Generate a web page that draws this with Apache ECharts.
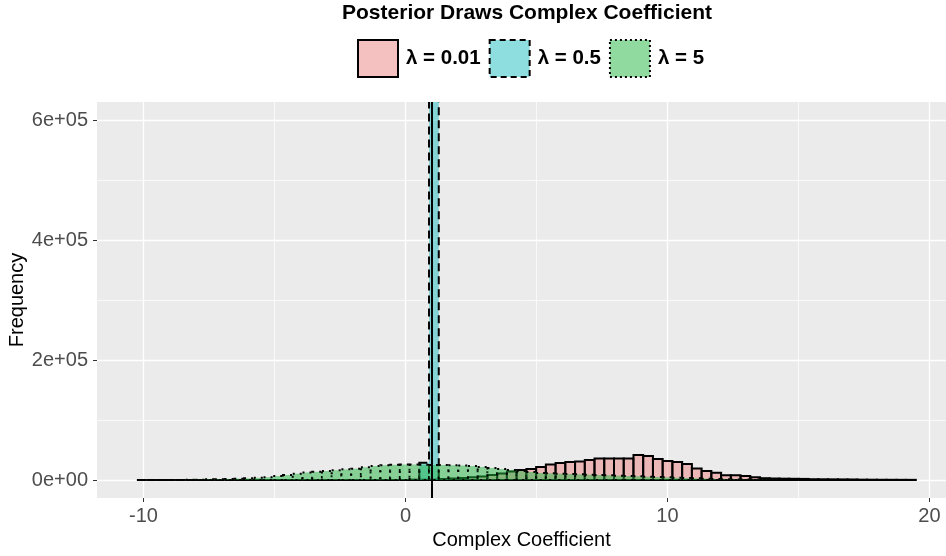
<!DOCTYPE html>
<html>
<head>
<meta charset="utf-8">
<script src="https://cdn.jsdelivr.net/npm/echarts@6/dist/echarts.min.js"></script>
<style>
  html, body { margin: 0; padding: 0; background: #ffffff; }
  #chart { width: 946px; height: 556px; }
</style>
</head>
<body>
<div id="chart"></div>
<script>
// ---- data ----
const SERIES_NAMES = ['λ = 0.01', 'λ = 0.5', 'λ = 5'];
const BIN_START = -10.25;
const BIN_WIDTH = 0.3716;
const TRUE_VALUE = 1;

// counts per bin (80 bins)
const countsLow = [
  0, 0, 0, 0, 0, 0, 0, 0, 0, 0,
  0, 0, 0, 0, 0, 0, 0, 0, 0, 0,
  0, 0, 0, 0, 0, 0, 0, 0, 300, 600,
  1000, 1700, 2500, 3500, 4500, 6000, 8300, 10800, 14200, 16700,
  18300, 21500, 25800, 28300, 30000, 30800, 33300, 35800, 35800, 35800,
  35800, 41700, 40000, 35000, 31700, 30000, 26700, 19200, 15000, 12200,
  7800, 7800, 6700, 4500, 3000, 2500, 2200, 2000, 1800, 1300,
  1200, 1100, 1000, 900, 600, 500, 400, 350, 300, 250
];
const countsMid = [
  0, 0, 0, 0, 0, 0, 0, 0, 0, 0,
  0, 0, 0, 0, 0, 0, 0, 0, 0, 0,
  0, 0, 0, 0, 0, 0, 0, 0, 500, 28800,
  670000, 1500, 200, 0, 0, 0, 0, 0, 0, 0,
  0, 0, 0, 0, 0, 0, 0, 0, 0, 0,
  0, 0, 0, 0, 0, 0, 0, 0, 0, 0,
  0, 0, 0, 0, 0, 0, 0, 0, 0, 0,
  0, 0, 0, 0, 0, 0, 0, 0, 0, 0
];
const countsHigh = [
  10, 20, 40, 80, 150, 300, 600, 1200, 1300, 1700,
  2200, 2800, 3700, 4700, 6700, 8300, 10500, 12500, 13700, 15000,
  16300, 17800, 18800, 21200, 23300, 24700, 25300, 25800, 25800, 25300,
  25000, 25000, 24700, 24200, 23300, 21700, 20000, 18300, 16700, 15000,
  13300, 11700, 11200, 10500, 10000, 9500, 8800, 8300, 7800, 7200,
  6700, 6200, 5500, 5000, 4500, 3800, 3300, 2800, 2200, 1700,
  1300, 1000, 800, 700, 500, 300, 150, 100, 50, 0,
  0, 0, 0, 0, 0, 0, 0, 0, 0, 0
];

const X_TICKS = [-10, 0, 10, 20];
const X_TICK_LABELS = ['-10', '0', '10', '20'];
const X_MINOR = [-5, 5, 15];
const Y_TICKS = [0, 200000, 400000, 600000];
const Y_TICK_LABELS = ['0e+00', '2e+05', '4e+05', '6e+05'];
const Y_MINOR = [100000, 300000, 500000];

// ---- styling ----
const FONT = '"Liberation Sans", Arial, sans-serif';
const FILLS = ['rgba(233,131,129,0.5)', 'rgba(29,189,193,0.5)', 'rgba(33,181,65,0.5)'];
const DASHES = [null, [8, 5], [2, 5]];
const BORDER_TYPES = ['solid', [6, 4], [2, 3]];
const X_MIN = -11.775, X_MAX = 20.63;
const Y_MIN = -30000, Y_MAX = 630000;

function binData(counts) {
  return counts.map((c, i) => [BIN_START + i * BIN_WIDTH, BIN_START + (i + 1) * BIN_WIDTH, c]);
}

function makeRender(fill, dash) {
  return function (params, api) {
    const p0 = api.coord([api.value(0), 0]);
    const p1 = api.coord([api.value(1), api.value(2)]);
    return {
      type: 'rect',
      shape: { x: p0[0], y: p1[1], width: p1[0] - p0[0], height: p0[1] - p1[1] },
      style: { fill: fill, stroke: '#000000', lineWidth: 2, lineDash: dash }
    };
  };
}

const allCounts = [countsLow, countsMid, countsHigh];
const series = allCounts.map((counts, k) => ({
  type: 'custom',
  name: SERIES_NAMES[k],
  xAxisIndex: 0,
  yAxisIndex: 0,
  clip: true,
  silent: true,
  itemStyle: { color: FILLS[k] },
  renderItem: makeRender(FILLS[k], DASHES[k]),
  encode: { x: [0, 1], y: 2 },
  data: binData(counts)
}));
series[2].markLine = {
  silent: true,
  symbol: ['none', 'none'],
  label: { show: false },
  lineStyle: { color: '#000000', width: 2, type: 'solid' },
  data: [{ xAxis: TRUE_VALUE }]
};

const chart = echarts.init(document.getElementById('chart'), null, { renderer: 'canvas' });
chart.setOption({
  animation: false,
  backgroundColor: '#ffffff',
  title: {
    text: 'Posterior Draws Complex Coefficient',
    left: 522,
    textAlign: 'center',
    top: -2,
    textStyle: { fontFamily: FONT, fontSize: 21, fontWeight: 'bold', color: '#000000' }
  },
  legend: {
    top: 39,
    left: 357,
    padding: 0,
    itemWidth: 40,
    itemHeight: 37,
    itemGap: 8,
    selectedMode: false,
    textStyle: { fontFamily: FONT, fontSize: 20.5, fontWeight: 'bold', color: '#000000', padding: [0, 0, 0, 3] },
    data: SERIES_NAMES.map((n, k) => ({
      name: n,
      icon: 'rect',
      itemStyle: { color: FILLS[k], borderColor: '#000000', borderWidth: 2, borderType: BORDER_TYPES[k] }
    }))
  },
  grid: {
    left: 97, right: 0, top: 102, bottom: 58,
    outerBoundsMode: 'none',
    containLabel: false,
    show: true, backgroundColor: '#EBEBEB', borderWidth: 0
  },
  xAxis: [
    {
      type: 'value', min: X_MIN, max: X_MAX, position: 'bottom',
      axisLine: { show: false, onZero: false },
      axisTick: { show: true, length: 4, lineStyle: { color: '#333333', width: 1 }, customValues: X_TICKS },
      axisLabel: {
        customValues: X_TICKS,
        formatter: v => X_TICK_LABELS[X_TICKS.indexOf(v)],
        color: '#4D4D4D', fontSize: 20, fontFamily: FONT, margin: 8
      },
      splitLine: { show: true, lineStyle: { color: '#FFFFFF', width: 1.3 } },
      name: 'Complex Coefficient', nameLocation: 'middle', nameGap: 32, nameMoveOverlap: false,
      nameTextStyle: { color: '#000000', fontSize: 20, fontFamily: FONT }
    },
    {
      type: 'value', min: X_MIN, max: X_MAX, position: 'top',
      axisLine: { show: false, onZero: false },
      axisTick: { show: false, customValues: X_MINOR },
      axisLabel: { show: false, customValues: X_MINOR },
      splitLine: { show: true, lineStyle: { color: '#FFFFFF', width: 0.7 } }
    }
  ],
  yAxis: [
    {
      type: 'value', min: Y_MIN, max: Y_MAX, position: 'left',
      axisLine: { show: false, onZero: false },
      axisTick: { show: true, length: 4, lineStyle: { color: '#333333', width: 1 }, customValues: Y_TICKS },
      axisLabel: {
        customValues: Y_TICKS,
        formatter: v => Y_TICK_LABELS[Y_TICKS.indexOf(v)],
        color: '#4D4D4D', fontSize: 20, fontFamily: FONT, margin: 9
      },
      splitLine: { show: true, lineStyle: { color: '#FFFFFF', width: 1.3 } },
      name: 'Frequency', nameLocation: 'middle', nameGap: 70, nameRotate: 90, nameMoveOverlap: false,
      nameTextStyle: { color: '#000000', fontSize: 20, fontFamily: FONT }
    },
    {
      type: 'value', min: Y_MIN, max: Y_MAX, position: 'right',
      axisLine: { show: false, onZero: false },
      axisTick: { show: false, customValues: Y_MINOR },
      axisLabel: { show: false, customValues: Y_MINOR },
      splitLine: { show: true, lineStyle: { color: '#FFFFFF', width: 0.7 } }
    }
  ],
  series: series
});
</script>
</body>
</html>
